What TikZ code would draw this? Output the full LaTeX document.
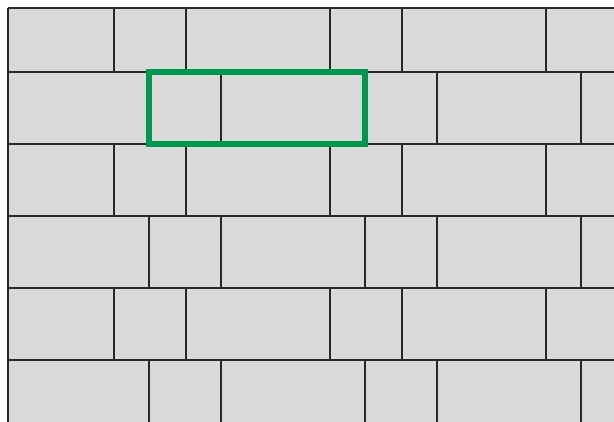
\documentclass[tikz,border=0pt]{standalone}
\usepackage{tikz}
\definecolor{tilegrey}{RGB}{217,217,217}
\definecolor{jointcol}{RGB}{40,40,40}
\definecolor{marker}{RGB}{0,152,78}
\tikzset{
  joint/.style={draw=jointcol, line width=1.4pt},
  highlight/.style={draw=marker, line width=5.5pt, line join=miter},
}
\begin{document}
\begin{tikzpicture}[x=1pt,y=-1pt]
\useasboundingbox (0,0) rectangle (614,421);
\clip (0,0) rectangle (614,421);
\fill[tilegrey] (8,8) rectangle (620,430);
% horizontal joints
\foreach \y in {8,72,144,216,288,360} \draw[joint] (8,\y) -- (620,\y);
% left edge
\draw[joint] (8,8) -- (8,430);
% odd rows
\foreach \t/\b in {8/72,144/216,288/360}
  \foreach \x in {114,186,330,402,546}
    \draw[joint] (\x,\t) -- (\x,\b);
% even rows
\foreach \t/\b in {72/144,216/288,360/430}
  \foreach \x in {149,221,365,437,581}
    \draw[joint] (\x,\t) -- (\x,\b);
% highlighted pair of tiles
\draw[highlight] (149,72) rectangle (365,144);
\end{tikzpicture}
\end{document}
